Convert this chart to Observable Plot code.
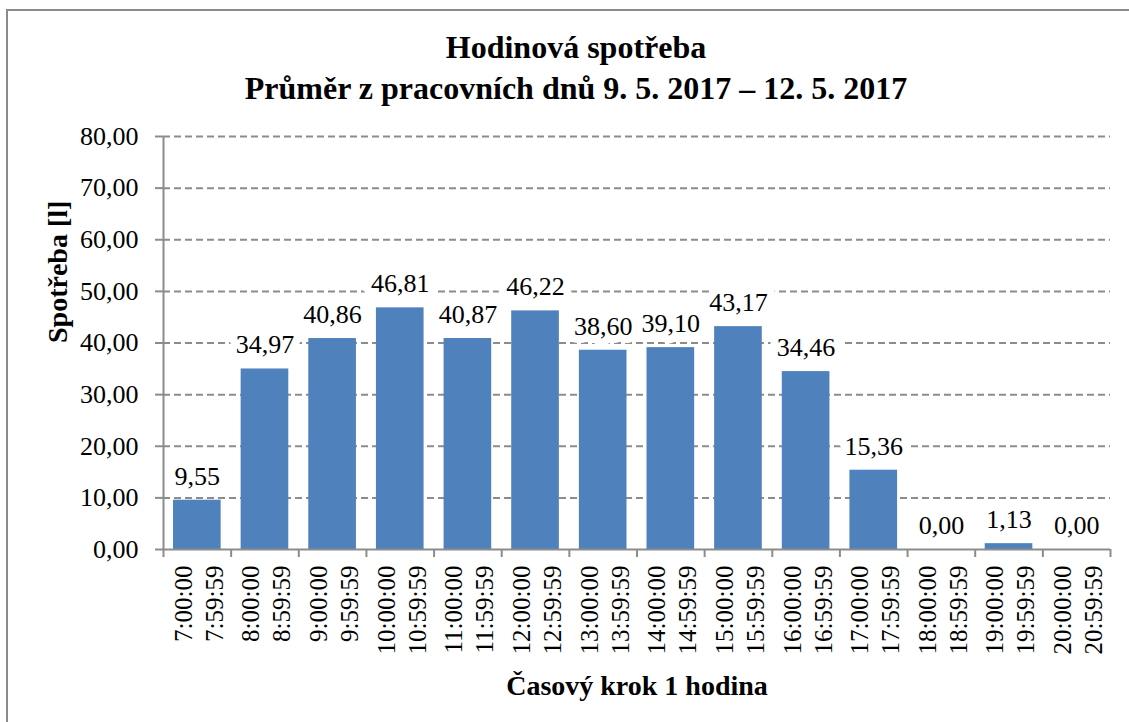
<!DOCTYPE html>
<html>
<head>
<meta charset="utf-8">
<script src="https://cdn.jsdelivr.net/npm/d3@7"></script>
<script src="https://cdn.jsdelivr.net/npm/@observablehq/plot@0.6"></script>
<style>
  html, body { margin: 0; padding: 0; background: #fff; }
  #wrap { position: relative; width: 1129px; height: 722px; overflow: hidden; }
  #frame { position: absolute; left: 6px; top: 9px; width: 1130px; height: 720px;
           border: 2px solid #8c8c8c; box-sizing: border-box; pointer-events: none; }
</style>
</head>
<body>
<div id="wrap"><div id="frame"></div></div>
<script>
const titleLines = ["Hodinová spotřeba", "Průměr z pracovních dnů 9. 5. 2017 – 12. 5. 2017"];
const xTitle = "Časový krok 1 hodina";
const yTitle = "Spotřeba [l]";
const startTimes = ["7:00:00","8:00:00","9:00:00","10:00:00","11:00:00","12:00:00","13:00:00","14:00:00","15:00:00","16:00:00","17:00:00","18:00:00","19:00:00","20:00:00"];
const endTimes   = ["7:59:59","8:59:59","9:59:59","10:59:59","11:59:59","12:59:59","13:59:59","14:59:59","15:59:59","16:59:59","17:59:59","18:59:59","19:59:59","20:59:59"];
const values = [9.55, 34.97, 40.86, 46.81, 40.87, 46.22, 38.60, 39.10, 43.17, 34.46, 15.36, 0.00, 1.13, 0.00];
const yTicks = [0, 10, 20, 30, 40, 50, 60, 70, 80];

const data = values.map((v, i) => ({i, v, label: startTimes[i] + "\n" + endTimes[i]}));
const fmt = d => d.toFixed(2).replace(".", ",");
const gray = "#8c8c8c";
const serif = "Liberation Serif";

const chart = Plot.plot({
  width: 1129,
  height: 722,
  marginLeft: 163,
  marginRight: 19,
  marginTop: 136,
  marginBottom: 173,
  style: {fontSize: "25px", color: "black", background: "transparent"},
  x: {domain: [0, values.length]},
  y: {domain: [0, 80]},
  marks: [
    Plot.gridY(yTicks.slice(1), {stroke: gray, strokeOpacity: 1, strokeWidth: 2, strokeDasharray: "7,4"}),
    Plot.rectY(data, {x1: d => d.i, x2: d => d.i + 1, y: "v", fill: "#4f81bd", insetLeft: 10, insetRight: 10}),
    Plot.ruleX([0], {stroke: gray, strokeWidth: 2}),
    Plot.ruleY([0], {stroke: gray, strokeWidth: 2}),
    Plot.axisY({ticks: yTicks, tickSize: 8, tickPadding: 17, tickFormat: fmt, stroke: gray, strokeWidth: 2, fontSize: 26, fontFamily: serif, label: null}),
    Plot.axisX({ticks: d3.range(0, values.length + 1), tickSize: 8, tickFormat: () => "", stroke: gray, strokeWidth: 2, label: null}),
    Plot.text(data, {x: d => d.i + 0.5, y: "v", text: d => fmt(d.v), dy: -24, fontSize: 26, fontFamily: serif,
      fill: "black", stroke: "white", strokeWidth: 16, strokeLinejoin: "round", paintOrder: "stroke"}),
    Plot.text(data, {x: d => d.i + 0.5, y: () => 0, text: "label", rotate: -90, textAnchor: "end",
      lineAnchor: "middle", lineHeight: 1.24, dy: 16, fontSize: 25, fontFamily: serif, fill: "black"}),
    Plot.text([titleLines[0]], {frameAnchor: "top", text: d => d, dx: -61, dy: -89, fontSize: 32, fontFamily: serif, fontWeight: "bold", lineAnchor: "middle", fill: "black"}),
    Plot.text([titleLines[1]], {frameAnchor: "top", text: d => d, dx: -61, dy: -48, fontSize: 32, fontFamily: serif, fontWeight: "bold", lineAnchor: "middle", fill: "black"}),
    Plot.text([xTitle], {frameAnchor: "bottom", text: d => d, dx: 0, dy: 137, fontSize: 28, fontFamily: serif, fontWeight: "bold", lineAnchor: "middle", fill: "black"}),
    Plot.text([yTitle], {frameAnchor: "left", text: d => d, dx: -105, dy: 0, rotate: -90, fontSize: 28, fontFamily: serif, fontWeight: "bold", lineAnchor: "middle", fill: "black"})
  ]
});
chart.querySelectorAll("g[aria-label='y-axis tick label'], g[aria-label='text']").forEach(el => {
  el.setAttribute("font-family", serif);
});
document.getElementById("wrap").prepend(chart);
</script>
</body>
</html>
